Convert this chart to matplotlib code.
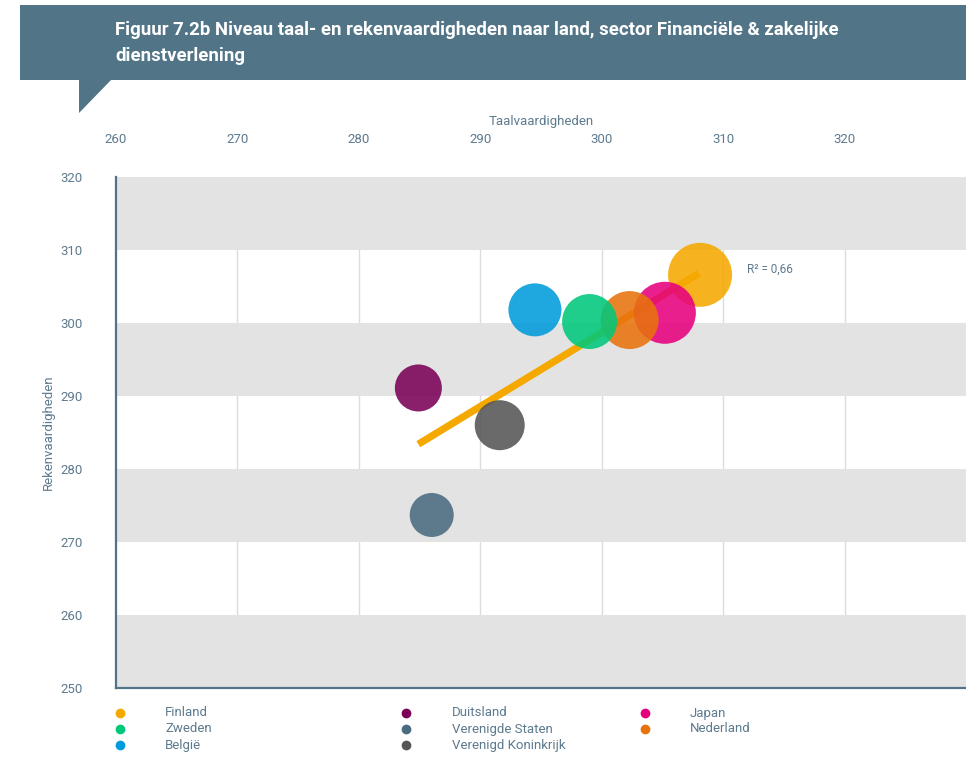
"""
Figuur 7.2b: taal- en rekenvaardigheden per land, sector Financiële & zakelijke
dienstverlening. Bubble chart with trend line, banner header and manual legend.
"""

import matplotlib.pyplot as plt
from matplotlib.lines import Line2D
from matplotlib.patches import Polygon, Rectangle

plt.rcParams["font.family"] = ["Roboto", "DejaVu Sans"]

# data
countries = ["Finland", "Japan", "Nederland", "Zweden", "België",
             "Duitsland", "Verenigd Koninkrijk", "Verenigde Staten"]
taal = [308.1, 305.2, 302.3, 299.0, 294.5, 284.9, 291.6, 286.0]
reken = [306.6, 301.4, 300.4, 300.2, 301.8, 291.1, 286.0, 273.7]
bubble = [64, 62, 58, 55, 53, 47, 50, 44]  # relative bubble diameter
colors = {
    "Finland": "#f5a800", "Japan": "#e6007e", "Nederland": "#e8730c",
    "Zweden": "#00c87a", "België": "#009bdc", "Duitsland": "#7a0057",
    "Verenigd Koninkrijk": "#555555", "Verenigde Staten": "#4a6b80",
}
trend_x = [284.9, 308.0]
trend_y = [283.4, 306.8]
r2_label = "R² = 0,66"

x_ticks = [260, 270, 280, 290, 300, 310, 320]
y_ticks = [250, 260, 270, 280, 290, 300, 310, 320]

legend_columns = [
    ["Finland", "Zweden", "België"],
    ["Duitsland", "Verenigde Staten", "Verenigd Koninkrijk"],
    ["Japan", "Nederland"],
]

W, H = 966, 778
TEXT = "#5d7a8e"
SLATE = "#517487"

fig = plt.figure(figsize=(W / 100, H / 100), dpi=100)

# header banner with speech-bubble tail
fig.add_artist(Rectangle((20 / W, 1 - 80 / H), 1 - 20 / W, 75 / H,
                         transform=fig.transFigure, color=SLATE, lw=0))
fig.add_artist(Polygon([(79 / W, 1 - 79 / H), (112 / W, 1 - 79 / H), (79 / W, 1 - 113 / H)],
                       transform=fig.transFigure, color=SLATE, lw=0))
fig.text(115 / W, 1 - 43 / H,
         "Figuur 7.2b Niveau taal- en rekenvaardigheden naar land, sector Financiële & zakelijke\n"
         "dienstverlening",
         color="white", fontsize=13.4, fontweight="bold", va="center", ha="left",
         linespacing=1.6)

ax = fig.add_axes([116 / W, 1 - 688 / H, 1 - 116 / W, (688 - 177) / H])
ax.set_xlim(260, 330)
ax.set_ylim(250, 320)

# vertical grid, then alternating grey bands on top of it
for xv in x_ticks[1:]:
    ax.axvline(xv, color="#dcdcdc", lw=1, zorder=0)
for lo in y_ticks[::2]:
    ax.axhspan(lo, lo + 10, color="#e3e3e3", lw=0, zorder=0.5)

ax.plot(trend_x, trend_y, color="#f5a800", lw=5.2, solid_capstyle="butt", zorder=2)

for name, xv, yv, d in zip(countries, taal, reken, bubble):
    ax.scatter(xv, yv, s=(d * 0.72) ** 2, color=colors[name], alpha=0.88,
               edgecolors="none", zorder=3)

ax.text(312.0, 307.3, r2_label, color=TEXT, fontsize=8.5, va="center", ha="left", zorder=4)

ax.xaxis.tick_top()
ax.xaxis.set_label_position("top")
ax.set_xticks(x_ticks)
ax.set_yticks(y_ticks)
ax.tick_params(axis="both", length=0, colors=TEXT, labelsize=9.5)
ax.tick_params(axis="x", pad=22)
ax.tick_params(axis="y", pad=24)
ax.set_xlabel("Taalvaardigheden", color=TEXT, fontsize=9.5, labelpad=6)
ax.set_ylabel("Rekenvaardigheden", color=TEXT, fontsize=9.5, labelpad=4)

for side in ["top", "right"]:
    ax.spines[side].set_visible(False)
for side in ["left", "bottom"]:
    ax.spines[side].set_color(SLATE)
    ax.spines[side].set_linewidth(1.6)
    ax.spines[side].set_zorder(5)

# manual legend, three columns
col_marker_x = [120, 406, 645]
col_text_x = [165, 452, 690]
row_y = [713, 729, 745]
for ci, names in enumerate(legend_columns):
    for ri, name in enumerate(names):
        fig.add_artist(Line2D([col_marker_x[ci] / W], [1 - row_y[ri] / H],
                              transform=fig.transFigure, marker="o", ms=6,
                              color=colors[name], lw=0))
        fig.text(col_text_x[ci] / W, 1 - row_y[ri] / H, name, color=TEXT,
                 fontsize=9.5, va="center", ha="left")

fig.savefig("out.png", dpi=100)
